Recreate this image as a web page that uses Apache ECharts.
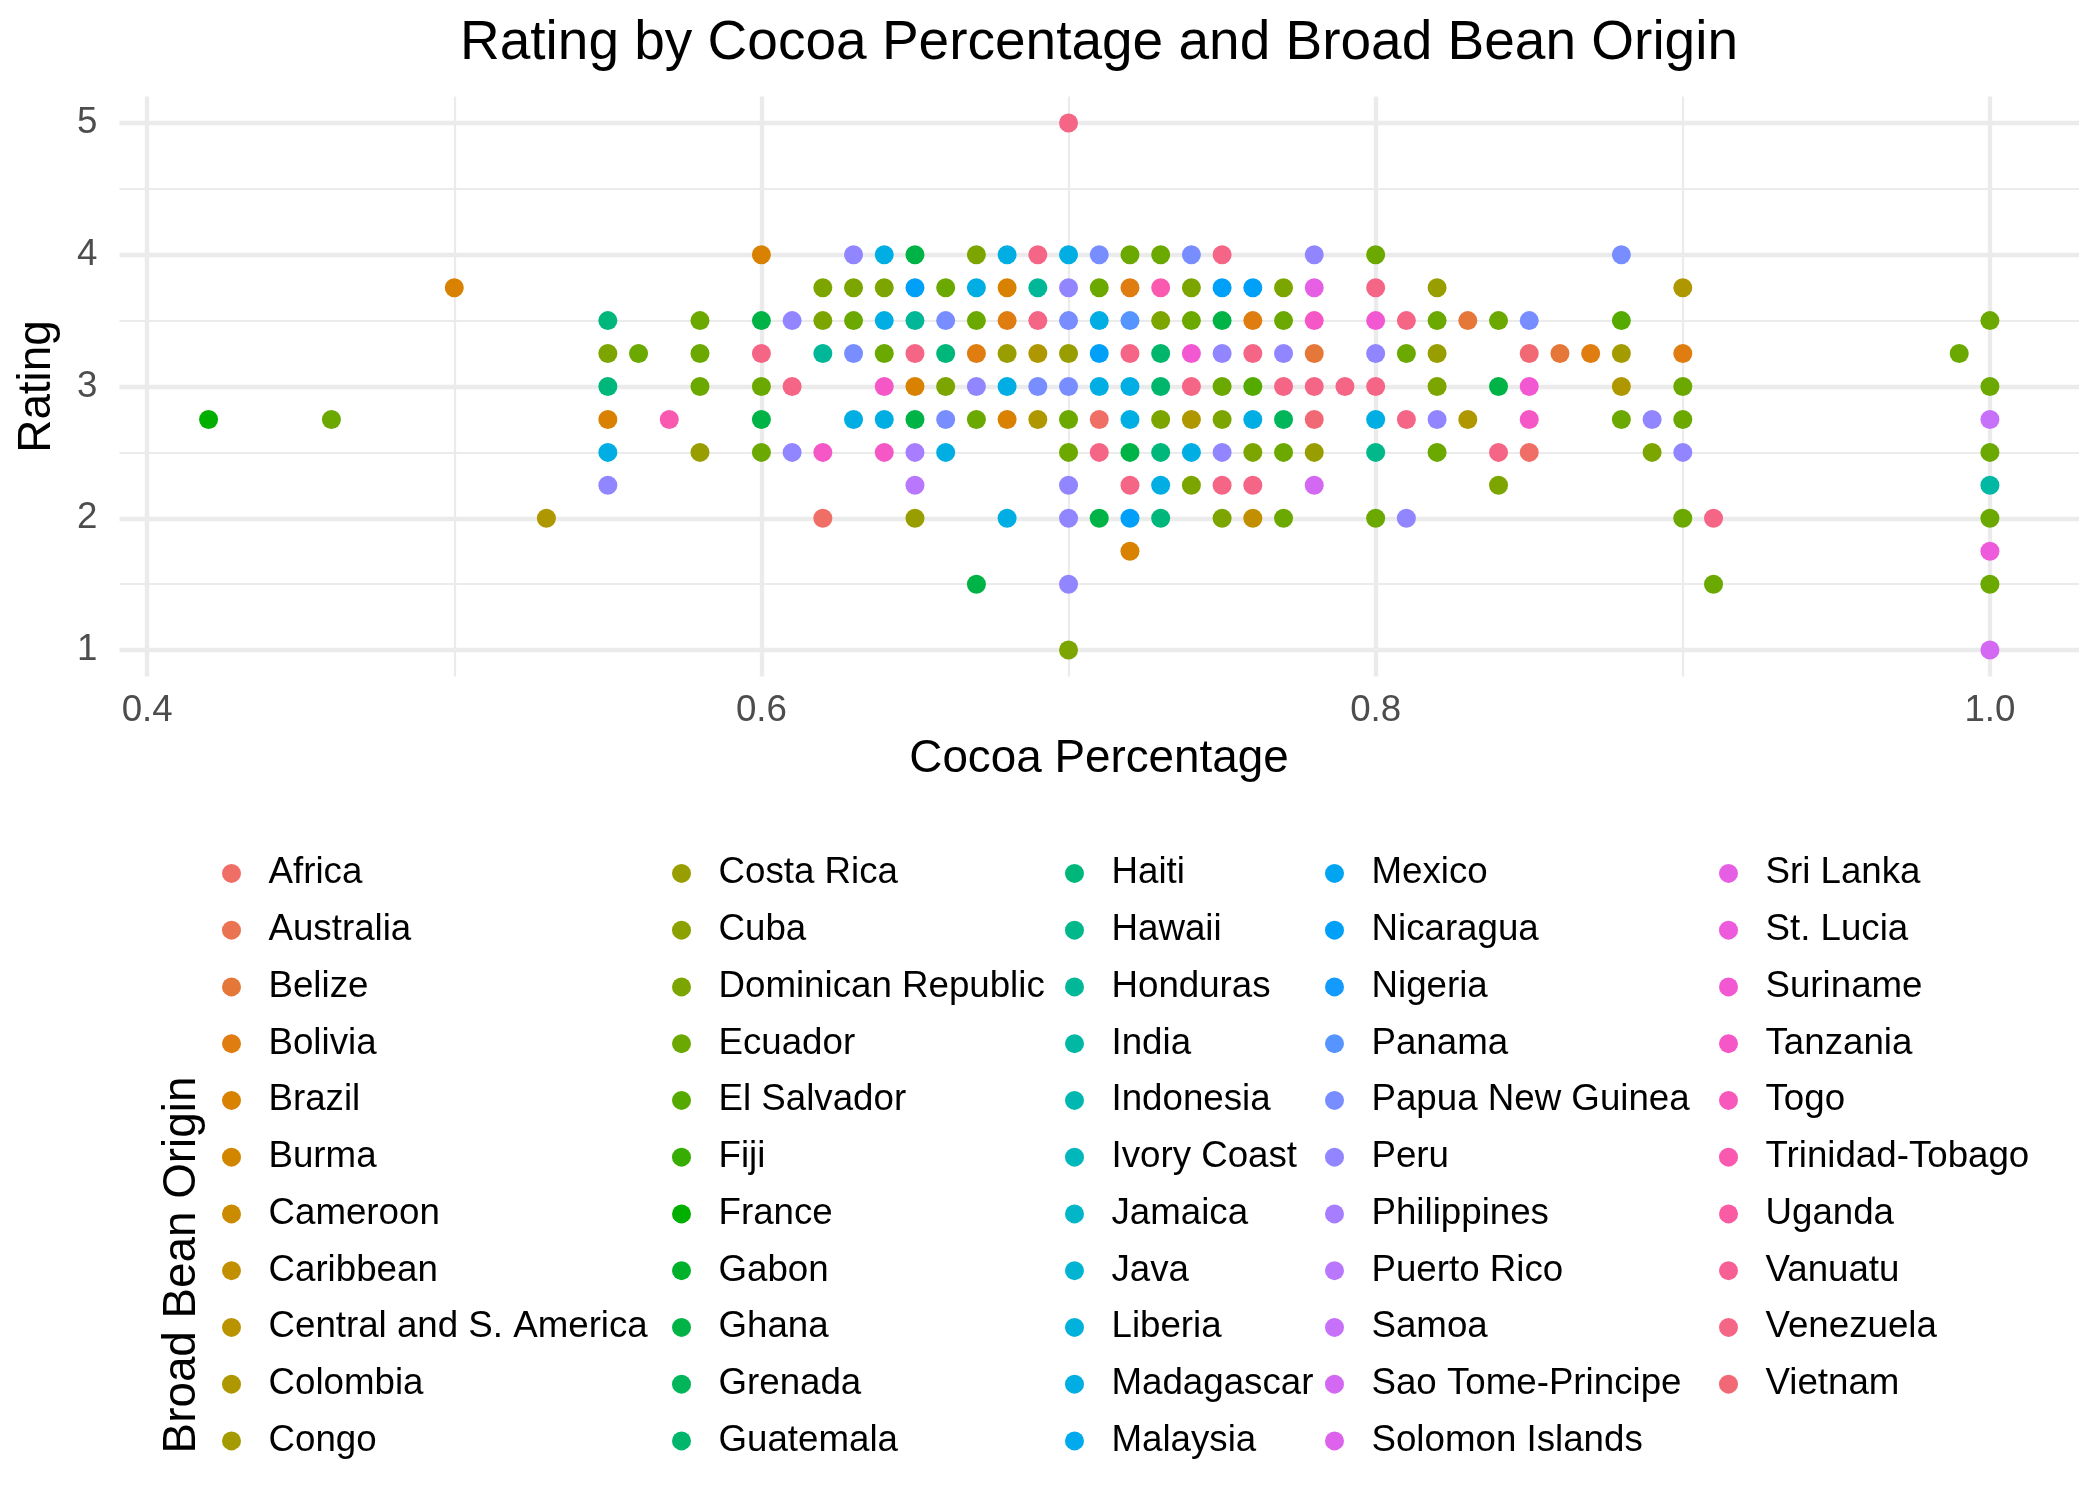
<!DOCTYPE html>
<html>
<head>
<meta charset="utf-8">
<script src="https://cdn.jsdelivr.net/npm/echarts@6/dist/echarts.min.js"></script>
<style>
  html, body { margin: 0; padding: 0; background: #fff; }
  #chart { width: 2100px; height: 1500px; }
</style>
</head>
<body>
<div id="chart"></div>
<script>
// legend order (alphabetical, as in the reference)
const origins = [
  'Africa', 'Australia', 'Belize', 'Bolivia', 'Brazil', 'Burma', 'Cameroon', 'Caribbean',
  'Central and S. America', 'Colombia', 'Congo', 'Costa Rica', 'Cuba', 'Dominican Republic',
  'Ecuador', 'El Salvador', 'Fiji', 'France', 'Gabon', 'Ghana', 'Grenada', 'Guatemala',
  'Haiti', 'Hawaii', 'Honduras', 'India', 'Indonesia', 'Ivory Coast', 'Jamaica', 'Java',
  'Liberia', 'Madagascar', 'Malaysia', 'Mexico', 'Nicaragua', 'Nigeria', 'Panama',
  'Papua New Guinea', 'Peru', 'Philippines', 'Puerto Rico', 'Samoa', 'Sao Tome-Principe',
  'Solomon Islands', 'Sri Lanka', 'St. Lucia', 'Suriname', 'Tanzania', 'Togo',
  'Trinidad-Tobago', 'Uganda', 'Vanuatu', 'Venezuela', 'Vietnam'
]

// [cocoa percentage, rating]
const africa = [[0.62, 2.0], [0.71, 2.75], [0.85, 2.5]]
const belize = [[0.78, 3.25], [0.83, 3.5], [0.86, 3.25]]
const bolivia = [[0.68, 3.5], [0.67, 3.25], [0.72, 3.75], [0.76, 3.5], [0.87, 3.25], [0.90, 3.25]]
const brazil = [[0.50, 3.75], [0.60, 4.0], [0.55, 2.75], [0.68, 3.75], [0.65, 3.0], [0.68, 2.75], [0.72, 1.75]]
const caribbean = [[0.76, 2.0]]
const colombia = [[0.53, 2.0], [0.69, 3.25], [0.69, 2.75], [0.74, 2.75], [0.83, 2.75], [0.90, 3.75], [0.88, 3.0]]
const congo = [[0.88, 3.25]]
const costaRica = [[0.58, 2.5], [0.68, 3.25], [0.70, 3.25], [0.65, 2.0], [0.78, 2.5], [0.82, 3.75], [0.82, 3.25]]
const domRep = [
  [0.62, 3.75], [0.62, 3.5], [0.55, 3.25], [0.63, 3.75], [0.64, 3.75], [0.67, 4.0], [0.66, 3.0],
  [0.74, 3.75], [0.77, 3.75], [0.73, 3.5], [0.73, 2.75], [0.75, 2.75], [0.76, 2.5], [0.74, 2.25],
  [0.75, 2.0], [0.82, 3.0], [0.84, 2.25], [0.89, 2.5], [0.70, 1.0]
]
const ecuador = [
  [0.46, 2.75], [0.58, 3.5], [0.56, 3.25], [0.58, 3.25], [0.58, 3.0], [0.60, 3.0], [0.60, 2.5],
  [0.66, 3.75], [0.63, 3.5], [0.67, 3.5], [0.64, 3.25], [0.67, 2.75], [0.70, 2.75], [0.70, 2.5],
  [0.72, 4.0], [0.73, 4.0], [0.71, 3.75], [0.74, 3.5], [0.77, 3.5], [0.75, 3.0], [0.77, 2.5],
  [0.77, 2.0], [0.80, 4.0], [0.82, 3.5], [0.84, 3.5], [0.81, 3.25], [0.82, 2.5], [0.80, 2.0],
  [0.90, 3.0], [0.88, 2.75], [0.90, 2.75], [0.90, 2.0], [0.91, 1.5], [1.0, 3.5], [0.99, 3.25],
  [1.0, 3.0], [1.0, 2.5], [1.0, 2.0], [1.0, 1.5]
]
const elSalvador = [[0.76, 3.0], [0.88, 3.5]]
const france = [[0.42, 2.75]]
const ghana = [[0.60, 3.5], [0.60, 2.75], [0.65, 4.0], [0.65, 2.75], [0.67, 1.5], [0.75, 3.5], [0.72, 2.5], [0.71, 2.0], [0.84, 3.0]]
const grenada = [[0.77, 2.75]]
const guatemala = [[0.73, 3.25], [0.73, 3.0]]
const haiti = [[0.55, 3.5], [0.55, 3.0], [0.66, 3.25], [0.73, 2.5], [0.73, 2.0]]
const hawaii = [[0.80, 2.5]]
const honduras = [[0.62, 3.25], [0.65, 3.5], [0.69, 3.75]]
const india = [[1.0, 2.25]]
const madagascar = [
  [0.55, 2.5], [0.64, 4.0], [0.68, 4.0], [0.70, 4.0], [0.67, 3.75], [0.64, 3.5], [0.68, 3.0],
  [0.63, 2.75], [0.64, 2.75], [0.66, 2.5], [0.68, 2.0], [0.71, 3.5], [0.71, 3.0], [0.72, 3.0],
  [0.72, 2.75], [0.76, 2.75], [0.74, 2.5], [0.73, 2.25], [0.80, 2.75]
]
const nicaragua = [[0.65, 3.75], [0.75, 3.75], [0.76, 3.75], [0.71, 3.25], [0.72, 2.0]]
const panama = [[0.72, 3.5]]
const papuaNewGuinea = [[0.66, 3.5], [0.70, 3.5], [0.63, 3.25], [0.69, 3.0], [0.70, 3.0], [0.66, 2.75], [0.71, 4.0], [0.74, 4.0], [0.85, 3.5], [0.88, 4.0]]
const peru = [
  [0.55, 2.25], [0.61, 3.5], [0.61, 2.5], [0.63, 4.0], [0.70, 3.75], [0.67, 3.0], [0.70, 2.25],
  [0.70, 2.0], [0.70, 1.5], [0.78, 4.0], [0.75, 3.25], [0.77, 3.25], [0.75, 2.5], [0.80, 3.25],
  [0.82, 2.75], [0.81, 2.0], [0.89, 2.75], [0.90, 2.5]
]
const philippines = [[0.65, 2.5]]
const puertoRico = [[0.65, 2.25]]
const samoa = [[1.0, 2.75]]
const saoTome = [[0.78, 2.25], [1.0, 1.0]]
const sriLanka = [[0.78, 3.75]]
const stLucia = [[1.0, 1.75]]
const suriname = [[0.74, 3.25], [0.80, 3.5], [0.85, 3.0]]
const tanzania = [[0.62, 2.5], [0.64, 3.0], [0.64, 2.5], [0.78, 3.5], [0.85, 2.75]]
const trinidad = [[0.57, 2.75], [0.73, 3.75]]
const venezuela = [
  [0.60, 3.25], [0.61, 3.0], [0.69, 4.0], [0.69, 3.5], [0.65, 3.25], [0.75, 4.0], [0.72, 3.25],
  [0.76, 3.25], [0.74, 3.0], [0.77, 3.0], [0.78, 3.0], [0.79, 3.0], [0.71, 2.5], [0.72, 2.25],
  [0.75, 2.25], [0.76, 2.25], [0.80, 3.75], [0.81, 3.5], [0.80, 3.0], [0.81, 2.75], [0.84, 2.5],
  [0.91, 2.0], [0.70, 5.0]
]
const vietnam = [[0.85, 3.25], [0.78, 2.75]]

// axis ticks
const xMajor = [0.4, 0.6, 0.8, 1.0]
const xMinor = [0.5, 0.7, 0.9]
const yMajor = [1, 2, 3, 4, 5]
const yMinor = [1.5, 2.5, 3.5, 4.5]

const pointsFor = {
  'Africa': africa, 'Belize': belize, 'Bolivia': bolivia, 'Brazil': brazil, 'Caribbean': caribbean,
  'Colombia': colombia, 'Congo': congo, 'Costa Rica': costaRica, 'Dominican Republic': domRep,
  'Ecuador': ecuador, 'El Salvador': elSalvador, 'France': france, 'Ghana': ghana, 'Grenada': grenada,
  'Guatemala': guatemala, 'Haiti': haiti, 'Hawaii': hawaii, 'Honduras': honduras, 'India': india,
  'Madagascar': madagascar, 'Nicaragua': nicaragua, 'Panama': panama, 'Papua New Guinea': papuaNewGuinea,
  'Peru': peru, 'Philippines': philippines, 'Puerto Rico': puertoRico, 'Samoa': samoa,
  'Sao Tome-Principe': saoTome, 'Sri Lanka': sriLanka, 'St. Lucia': stLucia, 'Suriname': suriname,
  'Tanzania': tanzania, 'Trinidad-Tobago': trinidad, 'Venezuela': venezuela, 'Vietnam': vietnam
}

// hue palette like ggplot2's, polar LUV -> sRGB
const hcl = (h, c, l) => {
  const WX = 95.047, WY = 100.0, WZ = 108.883
  const un = 4 * WX / (WX + 15 * WY + 3 * WZ)
  const vn = 9 * WY / (WX + 15 * WY + 3 * WZ)
  const rad = h * Math.PI / 180
  const U = c * Math.cos(rad), V = c * Math.sin(rad)
  const Y = WY * (l > 7.999592 ? Math.pow((l + 16) / 116, 3) : l / 903.3)
  const u = U / (13 * l) + un
  const v = V / (13 * l) + vn
  const X = 9.0 * Y * u / (4 * v)
  const Z = -X / 3 - 5 * Y + 3 * Y / v
  const g = (t) => t > 0.00304 ? 1.055 * Math.pow(t, 1 / 2.4) - 0.055 : 12.92 * t
  const rgb = [
    g((3.240479 * X - 1.537150 * Y - 0.498535 * Z) / WY),
    g((-0.969256 * X + 1.875992 * Y + 0.041556 * Z) / WY),
    g((0.055648 * X - 0.204043 * Y + 1.057311 * Z) / WY)
  ].map(t => Math.round(255 * Math.min(1, Math.max(0, t))))
  return '#' + rgb.map(t => t.toString(16).padStart(2, '0')).join('')
}
// the reference colours look a touch darker than l = 65
const colors = origins.map((_, i) => hcl(15 + i * 360 / origins.length, 100, 62))

const FONT = 'Liberation Sans, Arial, Helvetica, sans-serif'
const chart = echarts.init(document.getElementById('chart'))

const axisBase = {
  type: 'value',
  axisLine: { show: false },
  axisTick: { show: false }
}

const legendCols = [[0, 11], [11, 22], [22, 33], [33, 44], [44, 54]]
const legendKeyX = [231, 681, 1074, 1334, 1728]

const option = {
  backgroundColor: '#ffffff',
  animation: false,
  grid: { left: 119.5, right: 21, top: 96.6, height: 579.8 },
  xAxis: [
    {
      ...axisBase, min: 0.391, max: 1.029,
      axisTick: { show: false, customValues: xMajor },
      axisLabel: {
        customValues: xMajor, margin: 16, color: '#4d4d4d', fontSize: 36.7, fontFamily: FONT,
        formatter: v => v.toFixed(1)
      },
      splitLine: { show: true, lineStyle: { color: '#ebebeb', width: 4.4 } }
    },
    {
      ...axisBase, min: 0.391, max: 1.029,
      axisTick: { show: false, customValues: xMinor },
      axisLabel: { show: false, customValues: xMinor },
      splitLine: { show: true, lineStyle: { color: '#ebebeb', width: 2.2 } }
    }
  ],
  yAxis: [
    {
      ...axisBase, min: 0.8, max: 5.2,
      axisTick: { show: false, customValues: yMajor },
      axisLabel: { customValues: yMajor, margin: 22, color: '#4d4d4d', fontSize: 36.7, fontFamily: FONT },
      splitLine: { show: true, lineStyle: { color: '#ebebeb', width: 4.4 } }
    },
    {
      ...axisBase, min: 0.8, max: 5.2,
      axisTick: { show: false, customValues: yMinor },
      axisLabel: { show: false, customValues: yMinor },
      splitLine: { show: true, lineStyle: { color: '#ebebeb', width: 2.2 } }
    }
  ],
  legend: legendCols.map(([a, b], k) => ({
    orient: 'vertical',
    left: legendKeyX[k] - 9,
    top: 845,
    padding: 0,
    itemGap: 0,
    itemWidth: 64,
    itemHeight: 19,
    icon: 'circle',
    selectedMode: false,
    textStyle: { fontSize: 36.7, color: '#000', fontFamily: FONT, lineHeight: 56.75 },
    data: origins.slice(a, b)
  })),
  series: origins.map((name, i) => ({
    name,
    type: 'scatter',
    xAxisIndex: 0,
    yAxisIndex: 0,
    symbolSize: 19,
    itemStyle: { color: colors[i], opacity: 1 },
    data: pointsFor[name] || []
  })),
  graphic: [
    {
      type: 'text', x: 1099, y: 44,
      style: { text: 'Rating by Cocoa Percentage and Broad Bean Origin', fontSize: 55, fontFamily: FONT, fill: '#000', align: 'center', verticalAlign: 'middle' }
    },
    {
      type: 'text', x: 1099, y: 759,
      style: { text: 'Cocoa Percentage', fontSize: 45.8, fontFamily: FONT, fill: '#000', align: 'center', verticalAlign: 'middle' }
    },
    {
      type: 'text', x: 37.5, y: 386.5, rotation: Math.PI / 2,
      style: { text: 'Rating', fontSize: 45.8, fontFamily: FONT, fill: '#000', align: 'center', verticalAlign: 'middle' }
    },
    {
      type: 'text', x: 182, y: 1265, rotation: Math.PI / 2,
      style: { text: 'Broad Bean Origin', fontSize: 45.8, fontFamily: FONT, fill: '#000', align: 'center', verticalAlign: 'middle' }
    }
  ]
}

chart.setOption(option)
</script>
</body>
</html>
